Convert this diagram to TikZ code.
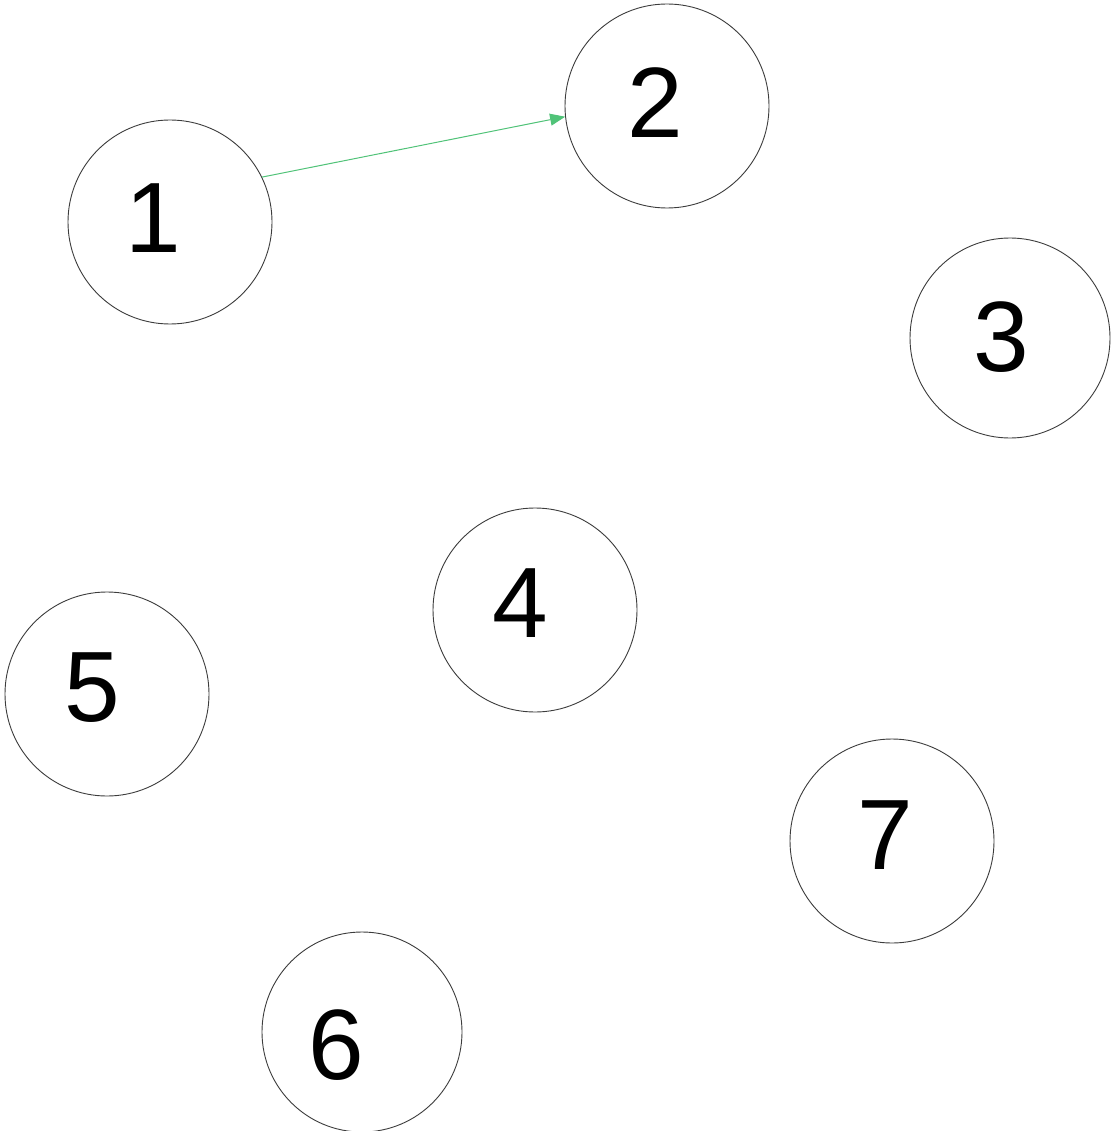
\documentclass[tikz,border=0pt]{standalone}
\usepackage{fontspec}
\setmainfont{Liberation Sans}
\usetikzlibrary{arrows.meta}
\definecolor{edgegreen}{RGB}{80,195,120}
\definecolor{ringgray}{RGB}{60,60,60}
\begin{document}
\begin{tikzpicture}[x=1pt,y=-1pt,
  ring/.style={circle,draw=ringgray,line width=0.9pt,minimum size=204pt,inner sep=0pt},
  digit/.style={font=\fontsize{100}{100}\selectfont,text=black,inner sep=0pt},
  link/.style={draw=edgegreen,line width=1pt,-{Triangle[length=15pt,width=12pt]}}]
\useasboundingbox[fill=white] (0,0) rectangle (1110,1131);
\node[ring] (n1) at (170,222) {};
\node[ring] (n2) at (667,106) {};
\node[ring,minimum size=200pt] (n3) at (1010,338) {};
\node[ring] (n4) at (535,610) {};
\node[ring] (n5) at (107,694) {};
\node[ring,minimum size=200pt] (n6) at (362,1032) {};
\node[ring] (n7) at (892,841) {};
\node[digit] (t1) at (153,218) {1};
\node[digit] (t2) at (655,103) {2};
\node[digit] (t3) at (1001,337) {3};
\node[digit] (t4) at (520,603) {4};
\node[digit] (t5) at (92,688) {5};
\node[digit] (t6) at (336,1045) {6};
\node[digit] (t7) at (885,835) {7};
\draw[link] (n1.26) -- (n2.186);
\end{tikzpicture}
\end{document}
